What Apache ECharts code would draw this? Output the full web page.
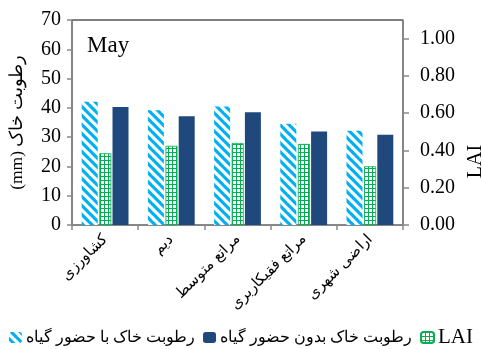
<!DOCTYPE html>
<html>
<head>
<meta charset="utf-8">
<script src="https://cdn.jsdelivr.net/npm/echarts@6/dist/echarts.min.js"></script>
<style>
  html, body { margin: 0; padding: 0; background: #fff; }
  #chart { width: 482px; height: 349px; }
</style>
</head>
<body>
<div id="chart"></div>
<script>
// Land-use classes along the category axis
const categories = ['کشاورزی', 'دیم', 'مراتع متوسط', 'مراتع فقیکاربری', 'اراضی شهری'];
// Soil moisture (mm) with vegetation present
const moistureWithPlants = [42.1, 39.2, 40.5, 34.6, 32.2];
// Soil moisture (mm) without vegetation
const moistureWithoutPlants = [40.3, 37.1, 38.5, 31.9, 30.8];
// Leaf area index
const laiValues = [0.385, 0.425, 0.44, 0.435, 0.315];

const seriesNames = ['رطوبت خاک با حضور گیاه', 'رطوبت خاک بدون حضور گیاه', 'LAI'];
// Left axis title, laid out right-to-left
const moistureAxisTitle = '\u202Bرطوبت خاک (mm)\u202C';

const FONT = '"Liberation Serif", "Times New Roman", serif';

// Diagonal light-blue stripes
function makeStripes() {
  const s = 9;
  const c = document.createElement('canvas');
  c.width = s; c.height = s;
  const g = c.getContext('2d');
  g.fillStyle = '#ffffff';
  g.fillRect(0, 0, s, s);
  g.fillStyle = '#00B0F0';
  const w = 4.5;
  for (let k = -2; k <= 2; k++) {
    const o = k * s;
    g.beginPath();
    g.moveTo(o, 0);
    g.lineTo(o + w, 0);
    g.lineTo(o + w + s, s);
    g.lineTo(o + s, s);
    g.closePath();
    g.fill();
  }
  return c;
}

// Small green grid
function makeGrid() {
  const s = 4;
  const c = document.createElement('canvas');
  c.width = s; c.height = s;
  const g = c.getContext('2d');
  g.fillStyle = '#ffffff';
  g.fillRect(0, 0, s, s);
  g.fillStyle = '#00B050';
  g.fillRect(0, 0, 1, s);
  g.fillRect(0, 0, s, 1);
  return c;
}

const stripePattern = { image: makeStripes(), repeat: 'repeat' };
const gridPattern = { image: makeGrid(), repeat: 'repeat' };

const chart = echarts.init(document.getElementById('chart'), null, { renderer: 'canvas' });

chart.setOption({
  animation: false,
  backgroundColor: '#ffffff',
  title: {
    text: 'May',
    left: 82,
    top: 29,
    textStyle: { fontFamily: FONT, fontSize: 23, fontWeight: 'normal', color: '#000' }
  },
  grid: {
    left: 72, right: 79, top: 20, bottom: 124,
    outerBoundsMode: 'none',
    show: true, borderColor: '#000', borderWidth: 1, backgroundColor: 'transparent'
  },
  legend: {
    data: [seriesNames[0], seriesNames[1], seriesNames[2]],
    left: 4,
    top: 322,
    width: 478,
    itemWidth: 13,
    itemHeight: 11,
    itemGap: 8,
    formatter: name => name === 'LAI' ? '{lai|' + name + '}' : name,
    textStyle: {
      fontFamily: FONT, fontSize: 16, color: '#000', padding: [0, 0, 0, -1],
      rich: { lai: { fontFamily: FONT, fontSize: 21, color: '#000' } }
    }
  },
  xAxis: {
    type: 'category',
    data: categories,
    axisLine: { lineStyle: { color: '#898989', width: 1.5 } },
    axisTick: { show: true, length: 5, lineStyle: { color: '#898989', width: 1.5 } },
    axisLabel: {
      rotate: 45, margin: 12, interval: 0,
      fontFamily: FONT, fontSize: 15, color: '#000'
    }
  },
  yAxis: [
    {
      type: 'value',
      min: 0, max: 70, interval: 10,
      name: moistureAxisTitle,
      nameLocation: 'middle',
      nameRotate: 90,
      nameGap: 46,
      nameTextStyle: { fontFamily: FONT, fontSize: 17.5, color: '#000' },
      axisLine: { show: true, lineStyle: { color: '#898989', width: 1.5 } },
      axisTick: { show: true, length: 5, lineStyle: { color: '#898989', width: 1.5 } },
      axisLabel: { margin: 11, fontFamily: FONT, fontSize: 20, color: '#000' },
      splitLine: { show: false }
    },
    {
      type: 'value',
      min: 0, max: 1.1, interval: 0.2,
      position: 'right',
      name: 'LAI',
      nameLocation: 'middle',
      nameRotate: 90,
      nameGap: 58,
      nameTextStyle: { fontFamily: FONT, fontSize: 20, color: '#000', padding: [0, 78, 0, 0] },
      axisLine: { show: true, lineStyle: { color: '#898989', width: 1.5 } },
      axisTick: { show: true, length: 6, lineStyle: { color: '#898989', width: 1.5 } },
      axisLabel: {
        margin: 17, fontFamily: FONT, fontSize: 20, color: '#000',
        showMaxLabel: false,
        formatter: v => v.toFixed(2)
      },
      splitLine: { show: false }
    }
  ],
  series: [
    {
      name: seriesNames[0],
      type: 'bar',
      yAxisIndex: 0,
      data: moistureWithPlants,
      barWidth: 16,
      barGap: '10%',
      itemStyle: { color: stripePattern }
    },
    {
      name: seriesNames[2],
      type: 'bar',
      yAxisIndex: 1,
      data: laiValues,
      barWidth: 12,
      barGap: '10%',
      itemStyle: { color: gridPattern, borderColor: '#00B050', borderWidth: 0.8 }
    },
    {
      name: seriesNames[1],
      type: 'bar',
      yAxisIndex: 0,
      data: moistureWithoutPlants,
      barWidth: 16,
      barGap: '10%',
      itemStyle: { color: '#1F497D' }
    }
  ]
});
</script>
</body>
</html>
